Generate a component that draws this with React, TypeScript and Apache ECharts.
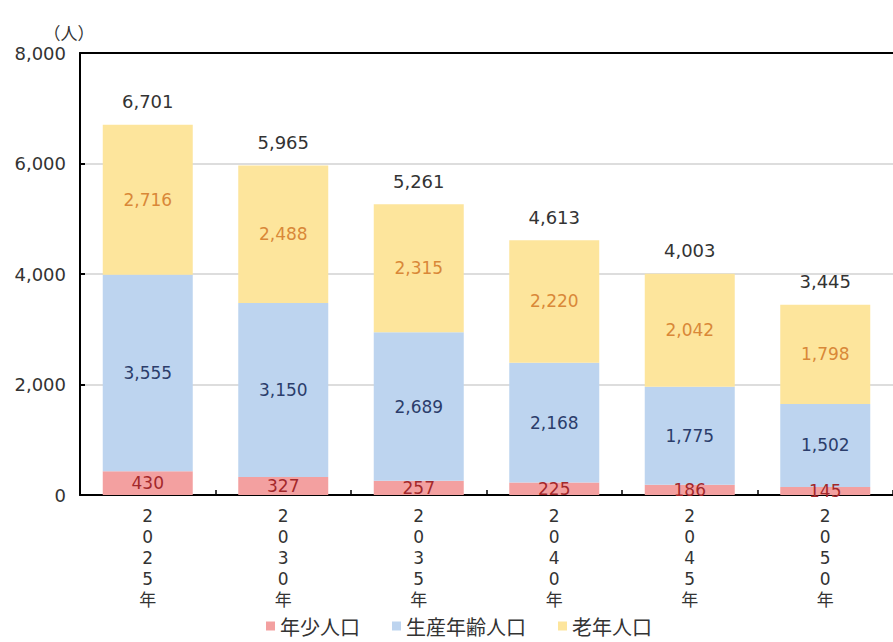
import React, { useEffect, useRef } from "react";
import * as echarts from "echarts";

const categories = ["2\n0\n2\n5\n年", "2\n0\n3\n0\n年", "2\n0\n3\n5\n年", "2\n0\n4\n0\n年", "2\n0\n4\n5\n年", "2\n0\n5\n0\n年"];
const youth = [430, 327, 257, 225, 186, 145];
const working = [3555, 3150, 2689, 2168, 1775, 1502];
const elderly = [2716, 2488, 2315, 2220, 2042, 1798];
const totals = [6701, 5965, 5261, 4613, 4003, 3445];
const yTicks = [0, 2000, 4000, 6000, 8000];

const FONT = "'Noto Sans CJK JP', 'Noto Sans', sans-serif";
const NUMFONT = "'DejaVu Sans', 'Noto Sans CJK JP', sans-serif";
const fmt = (v: number) => v.toLocaleString("en-US");

export default function App() {
  const ref = useRef<HTMLDivElement>(null);
  useEffect(() => {
    document.body.style.margin = "0";
    const chart = echarts.init(ref.current!, null, { renderer: "svg" });
    const segLabel = (color: string) => ({
      show: true,
      position: "inside" as const,
      color,
      fontSize: 17,
      fontFamily: NUMFONT,
      formatter: (p: any) => fmt(p.value),
    });
    chart.setOption({
      animation: false,
      textStyle: { fontFamily: FONT },
      grid: { left: 80, right: 0, top: 53, bottom: 147 },
      legend: {
        data: ["年少人口", "生産年齢人口", "老年人口"],
        left: 266,
        top: 615,
        padding: 0,
        icon: "rect",
        itemWidth: 9,
        itemHeight: 9,
        itemGap: 32,
        textStyle: { fontSize: 20, lineHeight: 22, color: "#333", fontFamily: FONT },
      },
      xAxis: [
        {
          type: "category",
          data: categories,
          axisLine: { lineStyle: { color: "#000", width: 2 } },
          axisTick: { show: true, inside: true, length: 5, lineStyle: { color: "#000", width: 1.5 } },
          axisLabel: { fontSize: 17, lineHeight: 21, color: "#333", margin: 10, fontFamily: NUMFONT },
        },
        {
          type: "category",
          position: "top",
          data: categories,
          axisLine: { show: true, lineStyle: { color: "#000", width: 2 } },
          axisTick: { show: false },
          axisLabel: { show: false },
        },
      ],
      yAxis: {
        type: "value",
        min: 0,
        max: 8000,
        interval: 2000,
        name: "（人）",
        nameLocation: "end",
        nameGap: 12,
        nameTextStyle: { fontSize: 17, color: "#333", fontFamily: FONT, align: "center", padding: [0, 0, 0, -22] },
        axisLine: { show: true, lineStyle: { color: "#000", width: 2 } },
        axisTick: { show: true, inside: true, length: 5, lineStyle: { color: "#000", width: 2 } },
        axisLabel: {
          fontSize: 18,
          color: "#333",
          margin: 14,
          fontFamily: NUMFONT,
          formatter: (v: number) => (yTicks.includes(v) ? fmt(v) : ""),
        },
        splitLine: { show: true, lineStyle: { color: "#d2d2d2", width: 1.5 } },
      },
      series: [
        {
          name: "年少人口",
          type: "bar",
          stack: "pop",
          data: youth,
          barWidth: 90,
          itemStyle: { color: "#F3A0A0" },
          label: segLabel("#a3282b"),
        },
        {
          name: "生産年齢人口",
          type: "bar",
          stack: "pop",
          data: working,
          barWidth: 90,
          itemStyle: { color: "#BDD4EF" },
          label: segLabel("#2b3d6b"),
        },
        {
          name: "老年人口",
          type: "bar",
          stack: "pop",
          data: elderly,
          barWidth: 90,
          itemStyle: { color: "#FDE59C" },
          label: segLabel("#d98838"),
        },
        {
          name: "合計",
          type: "bar",
          data: totals,
          barWidth: 90,
          barGap: "-100%",
          z: 1,
          itemStyle: { color: "transparent" },
          label: {
            show: true,
            position: "top",
            distance: 14,
            color: "#333",
            fontSize: 18,
            fontFamily: NUMFONT,
            formatter: (p: any) => fmt(p.value),
          },
          tooltip: { show: false },
        },
      ],
    });
    return () => chart.dispose();
  }, []);
  return <div ref={ref} style={{ width: 893, height: 642 }} />;
}
